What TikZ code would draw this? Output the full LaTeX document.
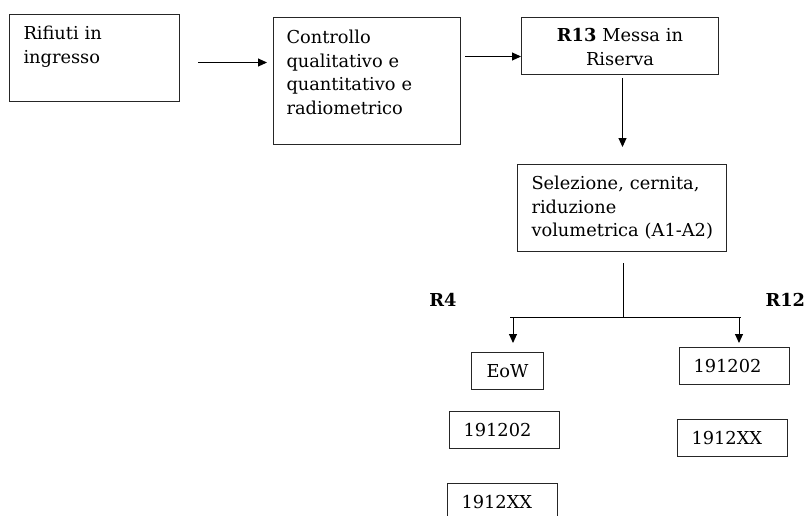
\documentclass[tikz,border=0pt]{standalone}
\usepackage{fontspec}
\setmainfont{DejaVu Serif}
\usetikzlibrary{positioning,arrows.meta}

\begin{document}
\begin{tikzpicture}[x=1pt,y=-1pt,
  blk/.style={draw=black!85, line width=1pt, anchor=north west, align=left, font=\fontsize{17.8}{23.5}\selectfont, text height=13pt},
  code/.style={draw=black!85, line width=1pt, anchor=north west, align=left, font=\fontsize{17.8}{23.5}\selectfont, minimum height=37pt, inner xsep=14pt, text width=82pt},
  arr/.style={-{Triangle[length=9pt,width=8pt]}, line width=1pt},
  lab/.style={font=\fontsize{17.8}{21}\selectfont\bfseries}]

\useasboundingbox (0,0) rectangle (805,515);

\node[blk, inner xsep=14pt, inner ysep=12pt, text width=142pt, text depth=50pt] (rifiuti) at (9,14) {Rifiuti in\\ingresso};
\node[blk, inner xsep=13pt, inner ysep=13pt, text width=161pt, text depth=88pt] (controllo) at (273,17) {Controllo\\\mbox{qualitativo e}\\\mbox{quantitativo e}\\radiometrico};
\node[blk, align=center, inner xsep=8pt, inner ysep=11pt, text width=181pt, text depth=22pt] (r13) at (521,17) {\mbox{\textbf{R13} Messa in}\\Riserva};
\node[blk, inner xsep=14pt, inner ysep=12pt, text width=181pt, text depth=50pt] (sel) at (517,164) {\mbox{Selezione, cernita,}\\riduzione\\\mbox{volumetrica (A1-A2)}};

\node[code, text width=44pt, align=center] (eow) at (471,352) {EoW};
\node[code] (lb1) at (449,411) {191202};
\node[code] (lb2) at (447,483) {1912XX};
\node[code] (rb1) at (679,347) {191202};
\node[code] (rb2) at (677,419) {1912XX};

\node[lab] (r4) at (443,300) {R4};
\node[lab, anchor=west] (r12) at (762,300) {R12};

\draw[arr, shorten <=18pt, shorten >=6pt] ([yshift=-4.5pt]rifiuti.east) -- ([yshift=-4.5pt]rifiuti.east -| controllo.west);
\draw[arr, shorten <=4pt] ([yshift=-10.5pt]r13.west -| controllo.east) -- ([yshift=-10.5pt]r13.west);
\draw[arr, shorten <=3pt, shorten >=17pt] ([xshift=2.5pt]r13.south) -- ([xshift=2.5pt]r13.south |- sel.north);

\coordinate (split) at (623,317);
\coordinate (hl) at (510,317);
\coordinate (hr) at (741,317);
\draw[line width=1pt, shorten <=11pt] (split |- sel.south) -- (split);
\draw[line width=1pt] (hl) -- (hr);
\draw[arr, shorten >=9pt] ([xshift=3pt]hl) -- ([xshift=3pt]hl |- eow.north);
\draw[arr, shorten >=4pt] ([xshift=-2pt]hr) -- ([xshift=-2pt]hr |- rb1.north);

\end{tikzpicture}
\end{document}
